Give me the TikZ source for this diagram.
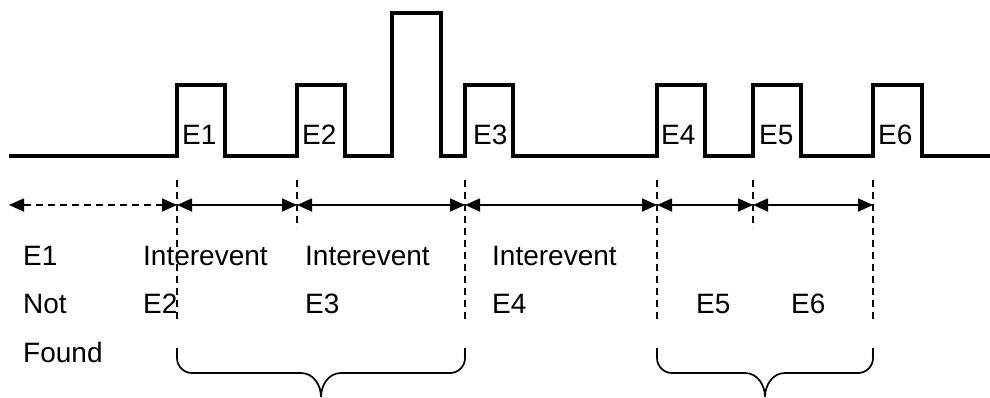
\documentclass[tikz,border=0pt]{standalone}
\usepackage{fontspec}
\setmainfont{Liberation Sans}
\usetikzlibrary{arrows.meta}

\begin{document}
\begin{tikzpicture}[x=1pt,y=-1pt,
  signal/.style={line width=3.5pt,line join=miter},
  guide/.style={line width=1.7pt,dash pattern=on 7pt off 5pt},
  gap/.style={{Triangle[length=15pt,width=13pt]}-{Triangle[length=15pt,width=13pt]},line width=1.7pt},
  lbl/.style={anchor=base west,inner sep=0pt,font=\fontsize{28}{33}\selectfont},
  brace/.style={line width=1.7pt}]
\useasboundingbox (0,0) rectangle (990,398);

% pulse train
\draw[signal] (9,156) -- (177,156) -- (177,85) -- (225,85) -- (225,156)
  -- (297,156) -- (297,85) -- (345,85) -- (345,156)
  -- (392,156) -- (392,13) -- (441,13) -- (441,156)
  -- (465,156) -- (465,85) -- (513,85) -- (513,156)
  -- (657,156) -- (657,85) -- (705,85) -- (705,156)
  -- (753,156) -- (753,85) -- (801,85) -- (801,156)
  -- (873,156) -- (873,85) -- (922,85) -- (922,156) -- (990,156);

% event labels inside pulses
\node[lbl] (p1) at (182,145) {E1};
\node[lbl] (p2) at (302,145) {E2};
\node[lbl] (p3) at (473,145) {E3};
\node[lbl] (p4) at (661,145) {E4};
\node[lbl] (p5) at (759,145) {E5};
\node[lbl] (p6) at (878,145) {E6};

% guide lines (long / short)
\foreach \n/\x/\y in {1/177/323, 2/297/228, 3/465/323, 4/657/323, 5/753/228, 6/873/323} {
  \coordinate (t\n) at (\x,180);
  \coordinate (b\n) at (\x,\y);
  \coordinate (a\n) at (\x,205);
  \draw[guide] (t\n) -- (b\n);
}
\coordinate (a0) at (9,205);

% interevent gaps
\draw[gap,dash pattern=on 7pt off 5pt] (a0) -- (a1);
\draw[gap] (a1) -- (a2);
\draw[gap] (a2) -- (a3);
\draw[gap] (a3) -- (a4);
\draw[gap] (a4) -- (a5);
\draw[gap] (a5) -- (a6);

% texts
\node[lbl] (nf1) at (23,265) {E1};
\node[lbl] (nf2) at (23,313) {Not};
\node[lbl] (nf3) at (23,362) {Found};
\node[lbl] (ie2) at (143,265) {Interevent};
\node[lbl] (e2) at (143,313) {E2};
\node[lbl] (ie3) at (305,265) {Interevent};
\node[lbl] (e3) at (305,313) {E3};
\node[lbl] (ie4) at (492,265) {Interevent};
\node[lbl] (e4) at (492,313) {E4};
\node[lbl] (e5) at (696,313) {E5};
\node[lbl] (e6) at (791,313) {E6};

% braces
\draw[brace] (177,348) -- (177,358) to[out=-90,in=180] (192,373) -- (301,373)
  to[out=0,in=90] (321,397) to[out=90,in=180] (341,373) -- (450,373)
  to[out=0,in=-90] (465,358) -- (465,348);
\draw[brace] (657,348) -- (657,358) to[out=-90,in=180] (672,373) -- (745,373)
  to[out=0,in=90] (765,397) to[out=90,in=180] (785,373) -- (858,373)
  to[out=0,in=-90] (873,358) -- (873,348);
\end{tikzpicture}
\end{document}
